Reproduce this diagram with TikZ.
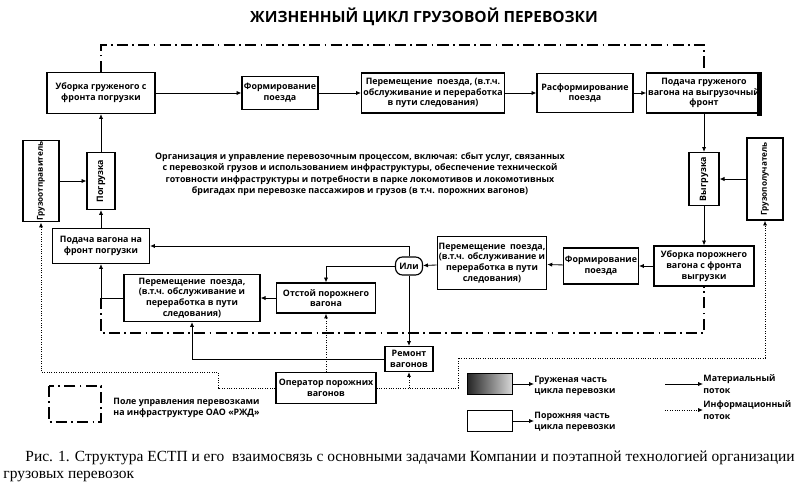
\documentclass[tikz,border=0pt]{standalone}
\usepackage{fontspec}
\usepackage{graphicx}
\setmainfont{Liberation Serif}
\newfontfamily\schema{Open Sans}
\usetikzlibrary{arrows.meta}
\tikzset{
blok/.style={draw, line width=0.8pt, align=center, inner sep=1pt, font=\schema\bfseries\fontsize{6.3}{7.6}\selectfont},
uzkij/.style={font=\schema\bfseries\fontsize{5.8}{7}\selectfont},
tekst/.style={align=left, inner sep=0pt, font=\schema\bfseries\fontsize{6.3}{8.2}\selectfont},
pole/.style={line width=0.9pt, dash pattern=on 8pt off 3pt on 1.2pt off 3pt},
info/.style={line width=0.7pt, densely dotted},
>={Latex[length=3.5pt,width=3pt]}
}
\begin{document}
\begin{tikzpicture}[x=0.025cm, y=-0.025cm, line width=0.6pt]
\useasboundingbox (0,0) rectangle (800,492);
\node at (424,17) [font=\schema\bfseries\fontsize{11}{12}\selectfont](T){ЖИЗНЕННЫЙ ЦИКЛ ГРУЗОВОЙ ПЕРЕВОЗКИ};
\node at (101,93) [blok, minimum width=2.7cm, minimum height=1.025cm](UG){Уборка груженого с\\фронта погрузки};
\node at (280,93) [blok, minimum width=1.9cm, minimum height=0.825cm](F1){Формирование\\поезда};
\node at (433,93) [blok, minimum width=3.575cm, minimum height=1cm](M1){Перемещение \ поезда, (в.т.ч.\\обслуживание и переработка\\в пути следования)};
\node at (585,93) [blok, minimum width=2.4cm, minimum height=0.975cm](RF){Расформирование\\поезда};
\node at (704,93) [blok, minimum width=2.775cm, minimum height=1cm](PG){Подача груженого\\вагона на выгрузочный\\фронт};
\node at (704,179) [blok, minimum width=0.75cm, minimum height=1.325cm](VG){\rotatebox{90}{Выгрузка}};
\node at (765,179) [blok, uzkij, minimum width=0.9cm, minimum height=2.05cm](GP){\rotatebox{90}{Грузополучатель}};
\node at (704,266) [blok, minimum width=2.5cm, minimum height=1cm](UP){Уборка порожнего\\вагона с фронта\\выгрузки};
\node at (601,266) [blok, minimum width=1.775cm, minimum height=0.9cm](F2){Формирование\\поезда};
\node at (492,263) [blok, minimum width=2.725cm, minimum height=1.325cm](M2){Перемещение \ поезда,\\(в.т.ч. обслуживание и\\переработка в пути\\следования)};
\node at (409,266) [blok, rounded corners=5pt, minimum width=0.675cm, minimum height=0.45cm](ILI){Или};
\node at (326,298) [blok, minimum width=2.475cm, minimum height=0.75cm](OT){Отстой порожнего\\вагона};
\node at (192,298) [blok, minimum width=3.4cm, minimum height=1.175cm](M3){Перемещение \ поезда,\\(в.т.ч. обслуживание и\\переработка в пути\\следования)};
\node at (101,246) [blok, minimum width=2.425cm, minimum height=0.875cm](PV){Подача вагона на\\фронт погрузки};
\node at (101,181) [blok, minimum width=0.7cm, minimum height=1.425cm](PZ){\rotatebox{90}{Погрузка}};
\node at (41,181) [blok, uzkij, minimum width=0.9cm, minimum height=1.95cm](GO){\rotatebox{90}{Грузоотправитель}};
\node at (409,359) [blok, minimum width=1.2cm, minimum height=0.625cm](RM){Ремонт\\вагонов};
\node at (326,388) [blok, minimum width=2.5cm, minimum height=0.775cm](OP){Оператор порожних\\вагонов};
\node at (360,174) [tekst, align=center](ORG){Организация и управление перевозочным процессом, включая: сбыт услуг, связанных\\с перевозкой грузов и использованием инфраструктуры, обеспечение технической\\готовности инфраструктуры и потребности в парке локомотивов и локомотивных\\бригадах при перевозке пассажиров и грузов (в т.ч. порожних вагонов)};
\fill ([xshift=-0.12cm]PG.north east) rectangle ([yshift=-0.05cm]PG.south east);
\draw[pole] (UG.north) -- (101,45) -- (704,45) -- (PG.north);
\draw[pole] (M3.west -| PV.south) -- (101,333) -- (704,333) -- (UP.south);
\draw[->] (UG) -- (F1);
\draw[->] (F1) -- (M1);
\draw[->] (M1) -- (RF);
\draw[->] (RF) -- (PG);
\draw[->] (PG) -- (VG);
\draw[->] (GP) -- (VG);
\draw[->] (VG) -- (UP);
\draw[->] (UP) -- (F2);
\draw[->] (F2) -- (M2);
\draw[->] (M2) -- (ILI);
\draw[->] (ILI.north) |- (PV.east);
\draw[->] (ILI.west) -| (OT.north);
\draw[->] (ILI) -- (RM);
\draw[->] (OT) -- (M3);
\draw[->] (M3.west) -| (PV.south);
\draw[->] (RM.west) -| (M3.south);
\draw[->] (PV) -- (PZ);
\draw[->] (PZ) -- (UG);
\draw[->] (GO) -- (PZ);
\coordinate (i1) at (458,358);
\coordinate (i2) at (218,372);
\draw[info,->] (OP) -- (OT);
\draw[info,->] (OP.east) -| (i1) -| (GP.south);
\draw[info,->] (OP.east -| RM.south) -- (RM.south);
\draw[info,->] (OP.west) -| (i2) -| (GO.south);
\draw[pole] (49,386) rectangle (101,422);
\node at (113,408) [tekst, anchor=west](POLE){Поле управления перевозками\\на инфраструктуре ОАО «РЖД»};
\node at (490,384) [draw, line width=0.8pt, left color=black!85, right color=black!15, minimum width=1.125cm, minimum height=0.525cm](LG){};
\node at (534,386) [tekst, anchor=west](LGT){Груженая часть\\цикла перевозки};
\node at (490,421) [draw, line width=0.8pt, minimum width=1.125cm, minimum height=0.525cm](LE){};
\node at (534,422) [tekst, anchor=west](LET){Порожняя часть\\цикла перевозки};
\draw[->] (LG.east) -- (LGT.west |- LG.east);
\draw[->] (LE.east) -- (LET.west |- LE.east);
\coordinate (mf) at (665,384);
\coordinate (if) at (665,410);
\node at (703,384) [tekst, anchor=west](MF){Материальный\\поток};
\node at (703,410) [tekst, anchor=west](IF){Информационный\\поток};
\draw[->] (mf) -- (MF.west);
\draw[info,->] (if) -- (IF.west);
\node at (25,458) [anchor=west, inner sep=0pt, font=\fontsize{11}{13}\selectfont](CAP1){Рис. 1. Структура ЕСТП и его \ взаимосвязь с основными задачами Компании и поэтапной технологией организации};
\node at (3,477) [anchor=west, inner sep=0pt, font=\fontsize{11}{13}\selectfont](CAP2){грузовых перевозок};
\end{tikzpicture}
\end{document}
